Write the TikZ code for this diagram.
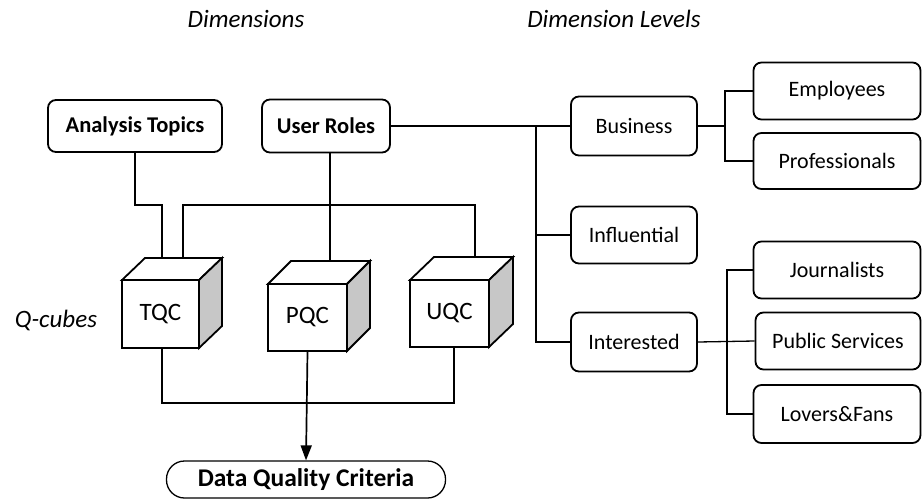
\documentclass[tikz,border=0pt]{standalone}
\usepackage{fontspec}
\setmainfont{Carlito}
\usetikzlibrary{arrows.meta}
\begin{document}
\begin{tikzpicture}[x=1pt,y=-1pt,
  box/.style={draw,line width=1.8pt,rounded corners=8pt,inner sep=0pt,font=\fontsize{22}{26}\selectfont},
  bbox/.style={box,font=\fontsize{22.5}{26}\selectfont\bfseries},
  conn/.style={line width=1.7pt},
  thin/.style={line width=1.3pt},
  face/.style={draw,line width=1.8pt,inner sep=0pt,font=\fontsize{25}{29}\selectfont},
  side/.style={draw,line width=1.8pt,line join=miter,fill=black!22},
  top/.style={draw,line width=1.8pt,line join=miter,fill=white},
  lab/.style={font=\fontsize{25}{29}\selectfont\itshape}]
\useasboundingbox (0,0) rectangle (923,498);
% headings
\node[lab] (hdim) at (246,19) {Dimensions};
\node[lab] (hlev) at (614,19) {Dimension Levels};
\node[lab] (hq) at (56,320) {Q-cubes};
% dimension boxes
\node[bbox,minimum width=174pt,minimum height=52pt] (at) at (135,126) {Analysis Topics};
\node[bbox,minimum width=128pt,minimum height=53pt] (ur) at (326,126) {User Roles};
% level boxes
\node[box,minimum width=126pt,minimum height=59pt] (bus) at (634,126) {Business};
\node[box,minimum width=126pt,minimum height=57pt] (inf) at (634,235) {Influential};
\node[box,minimum width=126pt,minimum height=59pt] (int) at (634,342) {Interested};
\node[box,minimum width=167pt,minimum height=57pt] (emp) at (837,91) {Employees};
\node[box,minimum width=167pt,minimum height=56pt] (pro) at (837,161) {Professionals};
\node[box,minimum width=167pt,minimum height=57pt] (jou) at (837,270) {Journalists};
\node[box,minimum width=165pt,minimum height=57pt] (pub) at (838,341) {Public Services};
\node[box,minimum width=167pt,minimum height=58pt] (lov) at (837,414) {Lovers\&Fans};
% cubes
\draw[top] (122,280) -- (145,258) -- (222,258) -- (199,280) -- cycle;
\draw[side] (199,280) -- (222,258) -- (222,326) -- (199,348) -- cycle;
\node[face,minimum width=77pt,minimum height=68pt] (tqc) at (160.5,314) {TQC};
\draw[top] (268,284) -- (291,261) -- (370,261) -- (347,284) -- cycle;
\draw[side] (347,284) -- (370,261) -- (370,328) -- (347,351) -- cycle;
\node[face,minimum width=79pt,minimum height=67pt] (pqc) at (307.5,317.5) {PQC};
\draw[top] (410,280) -- (434,257) -- (513,257) -- (489,280) -- cycle;
\draw[side] (489,280) -- (513,257) -- (513,324) -- (489,347) -- cycle;
\node[face,minimum width=79pt,minimum height=67pt] (uqc) at (449.5,313.5) {UQC};
\coordinate (tqcA) at (162,258);
\coordinate (tqcB) at (183,258);
\coordinate (pqcT) at (330,261);
\coordinate (uqcT) at (475,257);
% criteria
\node[draw,line width=1.3pt,rounded corners=18pt,minimum width=279pt,minimum height=37pt,inner sep=0pt,font=\fontsize{25.5}{29}\selectfont\bfseries] (dqc) at (306,479.5) {Data Quality Criteria};
% left connectors
\draw[conn] (at.south) -- (135,205) -- (162,205) -- (tqcA);
\draw[conn] (tqcB) -- (183,205) -- (475,205) -- (uqcT);
\draw[conn] (ur.south -| pqcT) -- (pqcT);
\draw[conn] (tqc.south -| 162,0) -- (162,403) -- (454,403) -- (uqc.south -| 454,0);
\draw[conn,-{Triangle[length=15pt,width=11pt]}] (pqc.south) -- (dqc.north);
% right connectors
\draw[thin] (ur.east) -- (bus.west);
\draw[thin] (536,126) |- (inf.west);
\draw[thin] (536,126) |- (int.west);
\draw[thin] (bus.east) -- (725,126);
\draw[thin] (emp.west) -| (725,126) |- (pro.west);
\draw[thin] (int.east) -- (pub.west);
\draw[thin] (jou.west) -| (727,343) |- (lov.west);
\end{tikzpicture}
\end{document}
